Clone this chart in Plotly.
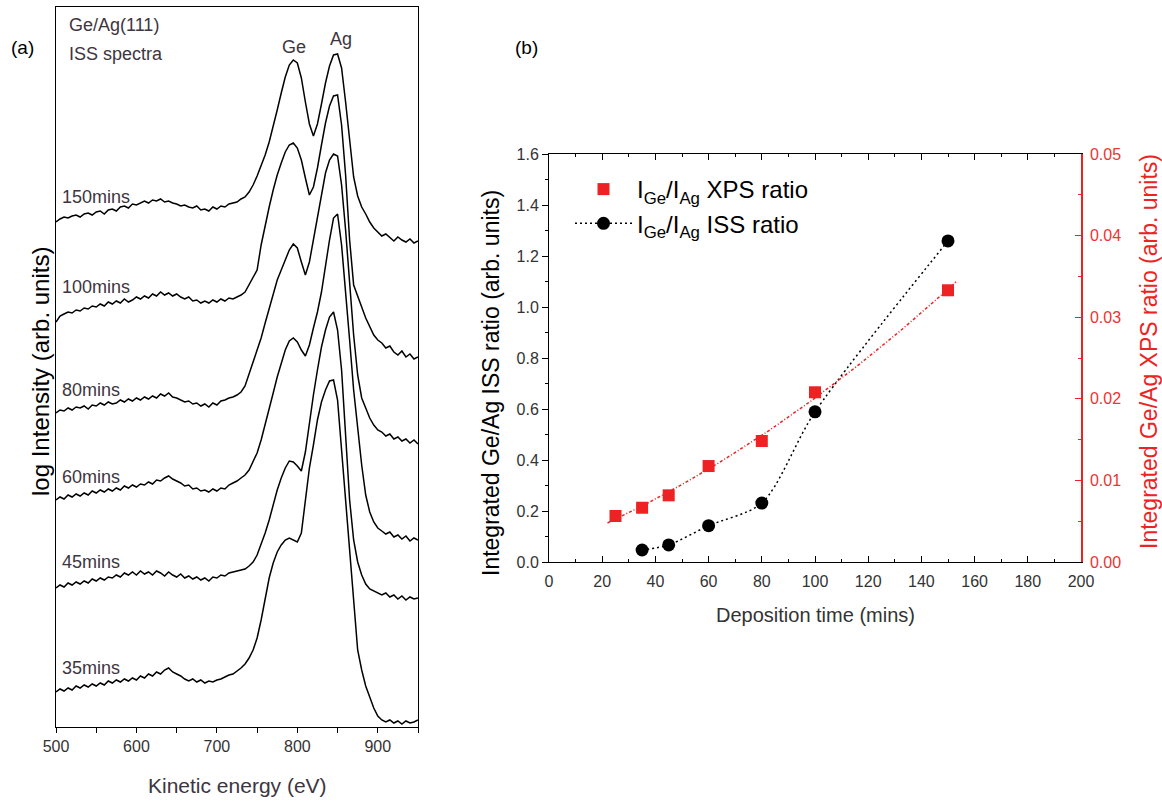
import numpy as np
import plotly.graph_objects as go

# ---------------- Panel (a): ISS spectra (offset, log intensity, arb. units) ----------------
energy = list(range(500, 955, 5))  # kinetic energy (eV)

I_150 = [508, 511, 513, 512, 514, 515, 513, 516, 517, 515, 518, 519, 516, 520, 521, 519, 523, 524, 522, 526,
         525, 527, 529, 527, 530, 529, 531, 528, 529, 527, 526, 524, 525, 523, 522, 524, 520, 521, 519, 523,
         521, 524, 523, 526, 527, 528, 531, 533, 538, 545, 554, 564, 575, 588, 603, 620, 637, 653, 665, 670,
         667, 652, 628, 606, 594, 606, 626, 647, 664, 675, 676, 662, 628, 590, 553, 534, 523, 516, 508, 502,
         498, 494, 496, 492, 489, 493, 490, 488, 491, 487, 489]
I_100 = [408, 414, 416, 418, 417, 420, 419, 422, 421, 424, 423, 426, 424, 428, 426, 429, 427, 431, 428, 430,
         433, 431, 434, 432, 436, 434, 438, 435, 437, 434, 436, 433, 431, 433, 429, 430, 427, 429, 427, 430,
         428, 431, 429, 432, 431, 433, 435, 438, 445, 452, 460, 485, 505, 523, 540, 555, 567, 578, 585, 587,
         582, 570, 552, 535, 543, 562, 585, 607, 624, 634, 635, 605, 555, 490, 445, 433, 423, 412, 403, 395,
         390, 387, 382, 384, 378, 375, 379, 373, 376, 371, 373]
I_80 = [317, 320, 319, 322, 320, 323, 322, 324, 321, 325, 324, 327, 325, 328, 326, 327, 330, 328, 331, 329,
        332, 330, 333, 331, 334, 332, 336, 334, 337, 333, 332, 330, 328, 329, 326, 327, 324, 326, 323, 327,
        325, 329, 330, 332, 333, 335, 338, 344, 355, 368, 380, 392, 407, 422, 437, 450, 460, 470, 480, 486,
        482, 468, 455, 468, 490, 515, 538, 557, 570, 576, 574, 545, 500, 450, 395, 355, 332, 322, 312, 305,
        300, 298, 294, 296, 291, 293, 289, 291, 287, 290, 286]
I_60 = [230, 233, 231, 235, 233, 236, 234, 237, 235, 239, 237, 240, 238, 241, 239, 242, 240, 244, 242, 245,
        243, 246, 245, 248, 246, 250, 249, 252, 254, 251, 249, 247, 244, 245, 241, 242, 239, 240, 238, 241,
        239, 242, 241, 245, 247, 249, 252, 255, 260, 268, 277, 290, 305, 320, 337, 353, 367, 380, 389, 392,
        388, 380, 374, 385, 402, 418, 438, 465, 490, 512, 516, 485, 440, 390, 340, 300, 265, 235, 218, 208,
        202, 199, 196, 198, 193, 195, 191, 194, 189, 192, 190]
I_45 = [142, 145, 143, 147, 145, 148, 146, 149, 147, 151, 149, 152, 150, 153, 152, 155, 153, 157, 155, 158,
        155, 159, 156, 158, 155, 159, 157, 154, 158, 155, 153, 156, 152, 154, 151, 153, 150, 152, 149, 153,
        152, 155, 154, 157, 158, 159, 160, 161, 164, 168, 175, 185, 197, 210, 225, 240, 252, 262, 269, 268,
        264, 259, 278, 308, 335, 360, 383, 400, 413, 418, 400, 360, 295, 230, 190, 168, 155, 146, 141, 139,
        137, 135, 137, 133, 135, 131, 134, 130, 133, 131, 132]
I_35 = [38, 41, 39, 42, 40, 44, 42, 45, 43, 46, 44, 47, 45, 49, 47, 50, 48, 51, 49, 52,
        50, 54, 52, 56, 54, 58, 56, 60, 62, 58, 56, 54, 51, 49, 51, 48, 50, 47, 49, 48,
        50, 51, 53, 55, 56, 59, 62, 66, 72, 80, 92, 110, 132, 152, 167, 178, 185, 190, 192, 190,
        188, 197, 230, 262, 285, 310, 328, 340, 349, 350, 330, 280, 222, 175, 122, 80, 60, 44, 33, 22,
        14, 10, 8, 10, 7, 9, 6, 9, 7, 8, 10]

spectra = [I_150, I_100, I_80, I_60, I_45, I_35]
spectra_labels = ["150mins", "100mins", "80mins", "60mins", "45mins", "35mins"]

# ---------------- Panel (b): ratios vs deposition time ----------------
time_xps = [25, 35, 45, 60, 80, 100, 150]
ratio_xps = [0.00564, 0.00665, 0.00817, 0.01176, 0.01483, 0.0208, 0.0333]
time_iss = [35, 45, 60, 80, 100, 150]
ratio_iss = [0.047, 0.067, 0.1425, 0.231, 0.589, 1.259]

W, H = 1162, 801
def px(x): return x / W
def py(y): return 1 - y / H

FONT = "Liberation Sans, Arial, sans-serif"
TXT = "#3d3540"
RED = "#ee2222"

fig = go.Figure()

for vals in spectra:
    fig.add_trace(go.Scatter(x=energy, y=vals, mode="lines", xaxis="x", yaxis="y",
                             line=dict(color="black", width=1.5), showlegend=False,
                             hoverinfo="skip"))

# XPS fit (dash-dot, red) on right axis
coef = np.polyfit(time_xps, ratio_xps, 2)
t_fit = np.linspace(min(time_xps) - 3, max(time_xps) + 3, 80)
fig.add_trace(go.Scatter(x=t_fit, y=np.polyval(coef, t_fit), mode="lines", xaxis="x2", yaxis="y3",
                         line=dict(color=RED, width=1.5, dash="3px,2px,1px,2px"),
                         showlegend=False, hoverinfo="skip"))
fig.add_trace(go.Scatter(x=time_xps, y=ratio_xps, mode="markers", xaxis="x2", yaxis="y3",
                         marker=dict(symbol="square", size=12, color=RED),
                         name="I<sub>Ge</sub>/I<sub>Ag</sub> XPS ratio"))
fig.add_trace(go.Scatter(x=time_iss, y=ratio_iss, mode="lines+markers", xaxis="x2", yaxis="y2",
                         line=dict(color="black", width=1.5, dash="2px,3px", shape="spline", smoothing=0.8),
                         marker=dict(symbol="circle", size=13, color="black"),
                         name="I<sub>Ge</sub>/I<sub>Ag</sub> ISS ratio"))

tickfont = dict(family=FONT, size=16, color="#333333")
layout_axes = dict(
    xaxis=dict(domain=[px(56), px(418)], range=[500, 950], anchor="y", automargin=False,
               showline=True, linecolor="black", linewidth=1, mirror=True,
               ticks="outside", ticklen=5, tickcolor="black", tickvals=[500, 600, 700, 800, 900],
               minor=dict(dtick=50, ticks="outside", ticklen=5, tickcolor="black"),
               showgrid=False, zeroline=False, tickfont=tickfont),
    yaxis=dict(domain=[py(727), py(7)], range=[3, 723], anchor="x", automargin=False,
               showline=True, linecolor="black", linewidth=1, mirror=True,
               showticklabels=False, ticks="", showgrid=False, zeroline=False),
    xaxis2=dict(domain=[px(549), px(1081)], range=[0, 200], anchor="y2", automargin=False,
                showline=True, linecolor="black", linewidth=1, mirror="ticks",
                ticks="inside", ticklen=6, tickcolor="black", dtick=20,
                minor=dict(dtick=10, ticks="inside", ticklen=3, tickcolor="black"),
                showgrid=False, zeroline=False, tickfont=tickfont, ticklabelstandoff=5),
    yaxis2=dict(domain=[py(562), py(154)], range=[0, 1.6], anchor="x2", automargin=False,
                showline=True, linecolor="black", linewidth=1,
                ticks="outside", ticklen=6, tickcolor="black", dtick=0.2, tickformat=".1f",
                minor=dict(dtick=0.1, ticks="outside", ticklen=3, tickcolor="black"),
                showgrid=False, zeroline=False, tickfont=tickfont),
    yaxis3=dict(range=[0, 0.05], overlaying="y2", anchor="x2", side="right", automargin=False,
                showline=True, linecolor=RED, linewidth=1.5,
                ticks="inside", ticklen=6, tickcolor=RED, dtick=0.01, tickformat=".2f",
                minor=dict(dtick=0.005, ticks="inside", ticklen=3, tickcolor=RED),
                showgrid=False, zeroline=False, ticklabelstandoff=4,
                tickfont=dict(family=FONT, size=16, color="#ee3333")),
)

ann = []
def add(text, x, y, size=16, color=TXT, xanchor="center", angle=0):
    ann.append(dict(text=text, x=px(x), y=py(y), xref="paper", yref="paper", showarrow=False,
                    xanchor=xanchor, yanchor="middle", textangle=angle,
                    font=dict(family=FONT, size=size, color=color)))

add("(a)", 22, 47, 19, "black")
add("(b)", 526, 47, 19, "black")
add("Ge/Ag(111)", 67, 25, 18, xanchor="left")
add("ISS spectra", 67, 54, 18, xanchor="left")
add("Ge", 294, 47, 18)
add("Ag", 341, 39, 18)
for lab, yy in zip(spectra_labels, [197, 287, 390, 477, 562, 668]):
    add(lab, 60, yy, 18, xanchor="left")
add("Kinetic energy (eV)", 237, 785, 21)
add("log Intensity (arb. units)", 40, 372, 24, "black", angle=-90)
add("Integrated Ge/Ag ISS ratio (arb. units)", 491, 383, 23, "black", angle=-90)
add("Integrated Ge/Ag XPS ratio (arb. units)", 1149, 352, 23, RED, angle=-90)
add("Deposition time (mins)", 815, 615, 20, "#333333")

fig.update_layout(
    width=W, height=H, margin=dict(l=0, r=0, t=0, b=0, autoexpand=False),
    paper_bgcolor="white", plot_bgcolor="white",
    font=dict(family=FONT),
    annotations=ann,
    legend=dict(x=px(570), y=py(167), xanchor="left", yanchor="top",
                font=dict(family=FONT, size=24, color="black"),
                bgcolor="rgba(0,0,0,0)", tracegroupgap=0, itemwidth=57),
    **layout_axes,
)

fig.write_html("out.html")
